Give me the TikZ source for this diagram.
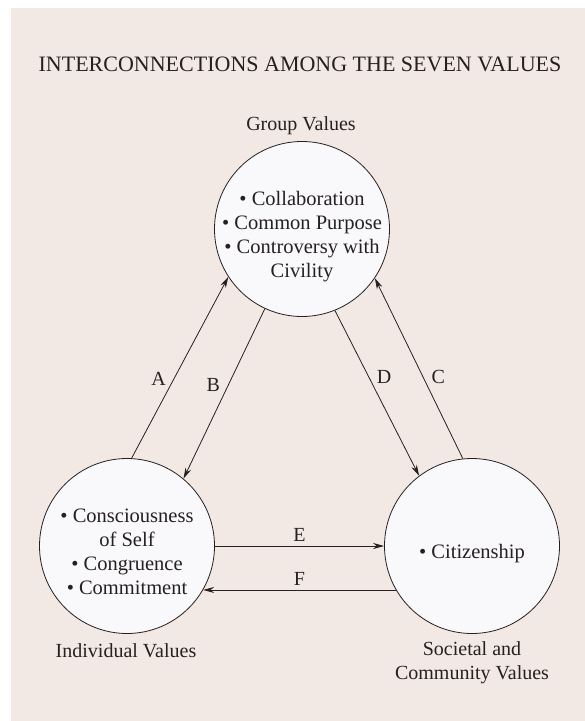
\documentclass[tikz,border=0pt]{standalone}
\usepackage{fontspec}
\setmainfont{Liberation Serif}
\usetikzlibrary{arrows.meta}
\definecolor{paper}{HTML}{F2E9E4}
\definecolor{disc}{HTML}{F9F8FA}
\definecolor{ink}{HTML}{262020}

\begin{document}
\begin{tikzpicture}[x=1pt,y=-1pt]
		\useasboundingbox (0,0) rectangle (585,721);
		\fill[white] (0,0) rectangle (585,721);
		\fill[paper] (11,8) rectangle (585,721);
		
		\node[text=ink,font=\fontsize{22}{24}\selectfont] (title) at (300,64) {INTERCONNECTIONS AMONG THE SEVEN VALUES};
		
		% the three value circles
		\begin{scope}[every node/.style={circle,draw=ink,line width=0.8pt,fill=disc, minimum size=175pt, inner sep=0pt}]
			\node (GV) at (302,229) {};
			\node (IV) at (127,546) {};
			\node (SV) at (472,546) {};
		\end{scope}
		
		\begin{scope}[every node/.style={text=ink,align=center,inner sep=0pt,font=\fontsize{20.5}{24}\selectfont}]
			\node (GT) at ([yshift=-8pt]GV.center) {\textbullet{} Collaboration\\
				\textbullet{} Common Purpose\\
				\textbullet{} Controversy with\\Civility};
			\node (IT) at ([yshift=-6pt]IV.center) {\textbullet{} Consciousness\\of Self\\
				\textbullet{} Congruence\\\textbullet{} Commitment};
			\node (ST) at ([yshift=-8pt]SV.center) {\textbullet{} Citizenship};
		\end{scope}
		
		\begin{scope}[every node/.style={text=ink,align=center,font=\fontsize{20}{24}\selectfont}]
			\node (GL) at (301,126) {Group Values};
			\node (IL) at (126,651) {Individual Values};
			\node (SL) at (472,663) {Societal and\\Community Values};
		\end{scope}
		
		\tikzstyle{arrow} = [line width=0.8pt,->,>={Stealth[length=11pt,width=6pt,inset=3.5pt]},color=ink]
		\tikzstyle{tag} = [text=ink,inner sep=1pt,font=\fontsize{20}{24}\selectfont]
		\draw [arrow] (IV.87) -- node[tag,pos=0.44,left=7pt] {A} (GV.213);
		\draw [arrow] (GV.245) -- node[tag,pos=0.45,left=7pt] {B} (IV.50);
		\draw [arrow] (SV.96) -- node[tag,pos=0.45,right=7pt] {C} (GV.326);
		\draw [arrow] (GV.292) -- node[tag,pos=0.40,right=7pt] {D} (SV.127);
		\draw [arrow] (IV.east) -- node[tag,above=3pt] {E} (SV.west);
		\draw [arrow] (SV.210) -- node[tag,above=3pt] {F} (IV.330);
		
	\end{tikzpicture}
\end{document}
